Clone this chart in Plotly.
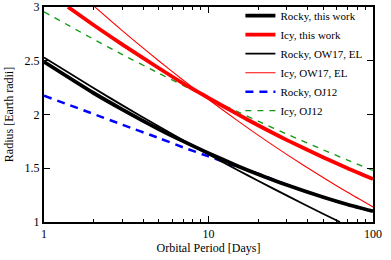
import plotly.graph_objects as go

# Orbital period grid (days) and radii (Earth radii)
period = [1, 2, 3, 5, 7, 10, 15, 20, 30, 50, 70, 100]

rocky_this_work = [2.49, 2.20, 2.046, 1.863, 1.752, 1.64, 1.522, 1.445, 1.344, 1.23, 1.163, 1.10]

icy_this_period = [1.4, 2, 3, 5, 7, 10, 15, 20, 30, 50, 70, 100]
icy_this_work = [3.0, 2.833, 2.65, 2.43, 2.29, 2.155, 2.003, 1.90, 1.762, 1.60, 1.50, 1.40]

rocky_ow17_period = [1, 2, 3, 5, 7, 10, 15, 20, 30, 50, 63]
rocky_ow17 = [2.53, 2.246, 2.085, 1.888, 1.761, 1.63, 1.484, 1.384, 1.245, 1.075, 1.0]

icy_ow17_period = [2, 3, 5, 7, 10, 15, 20, 30, 50, 70, 100]
icy_ow17 = [3.012, 2.778, 2.498, 2.321, 2.14, 1.943, 1.808, 1.627, 1.411, 1.276, 1.14]

rocky_oj12 = [2.175, 2.005, 1.905, 1.78, 1.695, 1.61, 1.515, 1.45, 1.345, 1.23, 1.163, 1.10]

icy_oj12 = [2.955, 2.70, 2.557, 2.383, 2.271, 2.155, 2.027, 1.938, 1.817, 1.67, 1.576, 1.48]

x_major = [1, 10, 100]
x_ticktext = ["1", "10", "100"]
x_minor = [2, 3, 4, 5, 6, 7, 8, 9, 20, 30, 40, 50, 60, 70, 80, 90]
y_ticks = [1, 1.5, 2, 2.5, 3]
y_ticktext = ["1", "1.5", "2", "2.5", "3"]

FONT = "Liberation Serif"

fig = go.Figure()

def add(x, y, name, color, width, dash="solid", rank=1):
    fig.add_trace(go.Scatter(
        x=x, y=y, mode="lines", name=name, legendrank=rank,
        line=dict(color=color, width=width, dash=dash, shape="spline", smoothing=0.6),
    ))

add(period, rocky_oj12, "Rocky, OJ12", "#0000ff", 2.5, "8px,6px", 5)
add(period, icy_oj12, "Icy, OJ12", "#119911", 1.3, "6px,6px", 6)
add(rocky_ow17_period, rocky_ow17, "Rocky, OW17, EL", "#000000", 1.8, rank=3)
add(icy_ow17_period, icy_ow17, "Icy, OW17, EL", "#ff0000", 1.1, rank=4)
add(period, rocky_this_work, "Rocky, this work", "#000000", 3.8, rank=1)
add(icy_this_period, icy_this_work, "Icy, this work", "#ff0000", 3.8, rank=2)

fig.update_layout(
    width=391, height=260,
    margin=dict(l=44, r=18, t=7, b=38, autoexpand=False),
    paper_bgcolor="white", plot_bgcolor="white",
    font=dict(family=FONT, size=12, color="black"),
    showlegend=True,
    legend=dict(
        x=0.597, y=1.027, xanchor="left", yanchor="top",
        bgcolor="rgba(255,255,255,0)", borderwidth=0,
        font=dict(family=FONT, size=11),
        tracegroupgap=0, itemwidth=30,
    ),
    xaxis=dict(
        type="log", range=[0, 2], automargin=False,
        tickmode="array", tickvals=x_major, ticktext=x_ticktext,
        ticks="inside", ticklen=6, tickwidth=1, tickcolor="black",
        minor=dict(tickmode="array", tickvals=x_minor, ticks="inside", ticklen=3, tickcolor="black", showgrid=False),
        showline=True, linecolor="black", linewidth=2, mirror="allticks",
        showgrid=False, zeroline=False,
        title=dict(text="Orbital Period [Days]", font=dict(family=FONT, size=12), standoff=0),
        tickfont=dict(family=FONT, size=12),
    ),
    yaxis=dict(
        range=[1, 3], automargin=False,
        tickmode="array", tickvals=y_ticks, ticktext=y_ticktext,
        ticks="inside", ticklen=6, tickwidth=1, tickcolor="black",
        showline=True, linecolor="black", linewidth=2, mirror="allticks",
        showgrid=False, zeroline=False,
        title=dict(text="Radius [Earth radii]", font=dict(family=FONT, size=12), standoff=8),
        tickfont=dict(family=FONT, size=12),
    ),
)

fig.write_html(
    "out.html",
    config={"displayModeBar": False},
    post_script="document.body.style.margin='0';",
)
